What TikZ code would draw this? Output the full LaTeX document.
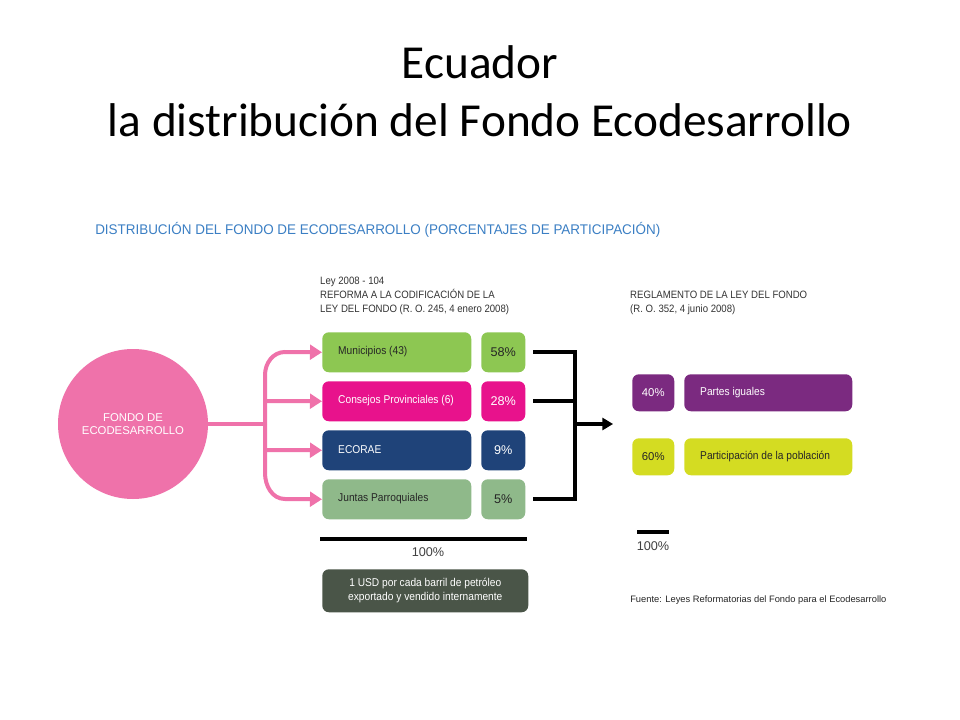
\documentclass[tikz,border=0pt]{standalone}
\usepackage{fontspec}
\setmainfont{Liberation Sans}
\newfontfamily\titlefont{Carlito}
\usetikzlibrary{arrows.meta}
\definecolor{pinkc}{HTML}{EF72AA}
\definecolor{mgreen}{HTML}{8DC752}
\definecolor{magc}{HTML}{E8128C}
\definecolor{navyc}{HTML}{1F4379}
\definecolor{sagec}{HTML}{8FB98A}
\definecolor{darkc}{HTML}{4A5548}
\definecolor{purc}{HTML}{7B2A80}
\definecolor{limec}{HTML}{D4DC22}
\definecolor{bluet}{HTML}{3B7FC4}
\tikzset{
 box/.style={rounded corners=5pt,inner sep=0pt,anchor=north west},
 lab/.style={font=\fontsize{8.5}{10}\selectfont,anchor=west,inner sep=0pt},
 pct/.style={font=\fontsize{9.5}{10}\selectfont,inner sep=0pt},
 parrow/.style={draw=pinkc,line width=3pt,-{Triangle[length=9pt,width=11pt]}},
 bline/.style={draw=black,line width=3pt}
}
\begin{document}
\begin{tikzpicture}[x=0.75pt,y=-0.75pt]
\useasboundingbox (0,0) rectangle (960,720);
\fill[white] (0,0) rectangle (960,720);
\node[font=\titlefont\fontsize{35.5}{40}\selectfont] (t1) at (480,62) {Ecuador};
\node[font=\titlefont\fontsize{35.5}{40}\selectfont] (t2) at (480,120) {la distribución del Fondo Ecodesarrollo};
\node[anchor=west,text=bluet,font=\fontsize{10.5}{12}\selectfont,xscale=0.96,inner sep=0pt] (hd) at (95,230) {DISTRIBUCIÓN DEL FONDO DE ECODESARROLLO (PORCENTAJES DE PARTICIPACIÓN)};
% circle
\node[circle,fill=pinkc,minimum size=150*0.75pt,inner sep=0pt,align=center,text=white,font=\fontsize{8.5}{10}\selectfont] (c) at (133,424) {FONDO DE\\ECODESARROLLO};
% left header
\node[anchor=north west,align=left,inner sep=0pt,text=black!80,font=\fontsize{8}{10.5}\selectfont,xscale=0.9] (lh) at (320,277) {Ley 2008 - 104\\REFORMA A LA CODIFICACIÓN DE LA\\LEY DEL FONDO (R. O. 245, 4 enero 2008)};
% boxes
\foreach \n/\y/\col/\t/\p/\tc in {m/332/mgreen/Municipios (43)/58\%/black!85, c2/381/magc/Consejos Provinciales (6)/28\%/white, e/430/navyc/ECORAE/9\%/white, j/479/sagec/Juntas Parroquiales/5\%/black!85}{
 \node[box,fill=\col,minimum width=149*0.75pt,minimum height=40*0.75pt] (\n) at (322,\y) {};
 \node[lab,text=\tc,xscale=0.9] (\n t) at (338,\y+20) {\t};
 \node[box,fill=\col,minimum width=44*0.75pt,minimum height=40*0.75pt] (\n p) at (481,\y) {};
 \node[pct,text=\tc] (\n pt) at (\n p.center) {\p};
}
% pink arrows
\coordinate (tr) at (265,424);
\draw[draw=pinkc,line width=3pt] (c.east) -- (tr);
\draw[parrow] (265,424) -- (265,375) to[out=90,in=180] (285,352) -- (m.west);
\draw[parrow] (265,424) -- (265,473) to[out=-90,in=180] (285,499) -- (j.west);
\draw[parrow] (265,401) -- (c2.west);
\draw[parrow] (265,450) -- (e.west);
% black bracket
\coordinate (bx) at (575,424);
\draw[bline] (533,352) -- (575,352) -- (575,499) -- (533,499);
\draw[bline] (533,401) -- (575,401);
\node[inner sep=0pt] (rt) at (614,424) {};
\draw[bline,-{Triangle[length=8pt,width=9pt]}] (bx) -- (rt);
% bar
\draw[line width=3.2pt] (320,539) -- (527,539);
\node[pct,text=black!75,font=\fontsize{9.5}{11}\selectfont] (h1) at (428,552) {100\%};
\node[box,fill=darkc,minimum width=206*0.75pt,minimum height=43*0.75pt] (d) at (322,569) {};
\node[align=center,text=white,font=\fontsize{8.5}{10.5}\selectfont,xscale=0.9,inner sep=0pt] (dt) at (d.center) {1 USD por cada barril de petróleo\\exportado y vendido internamente};
% right header
\node[anchor=north west,align=left,inner sep=0pt,text=black!80,font=\fontsize{8}{10.5}\selectfont,xscale=0.9] (rh) at (630,291) {REGLAMENTO DE LA LEY DEL FONDO\\(R. O. 352, 4 junio 2008)};
\foreach \n/\y/\col/\t/\p/\tc in {a/374/purc/Partes iguales/40\%/white, b/438/limec/Participación de la población/60\%/black!85}{
 \node[box,fill=\col,minimum width=42*0.75pt,minimum height=37*0.75pt] (\n p) at (632,\y) {};
 \node[pct,text=\tc,font=\fontsize{8.5}{10}\selectfont] (\n pt) at (\n p.center) {\p};
 \node[box,fill=\col,minimum width=168*0.75pt,minimum height=37*0.75pt] (\n) at (684,\y) {};
 \node[lab,text=\tc,xscale=0.9] (\n t) at (700,\y+18.5) {\t};
}
\draw[line width=2.8pt] (637,532) -- (669,532);
\node[pct,text=black!75,font=\fontsize{9.5}{11}\selectfont] (h2) at (653,546) {100\%};
\node[anchor=west,inner sep=0pt,font=\fontsize{7}{8}\selectfont,text=black!85] (f) at (630,600) {Fuente: Leyes Reformatorias del Fondo para el Ecodesarrollo};
\end{tikzpicture}
\end{document}
